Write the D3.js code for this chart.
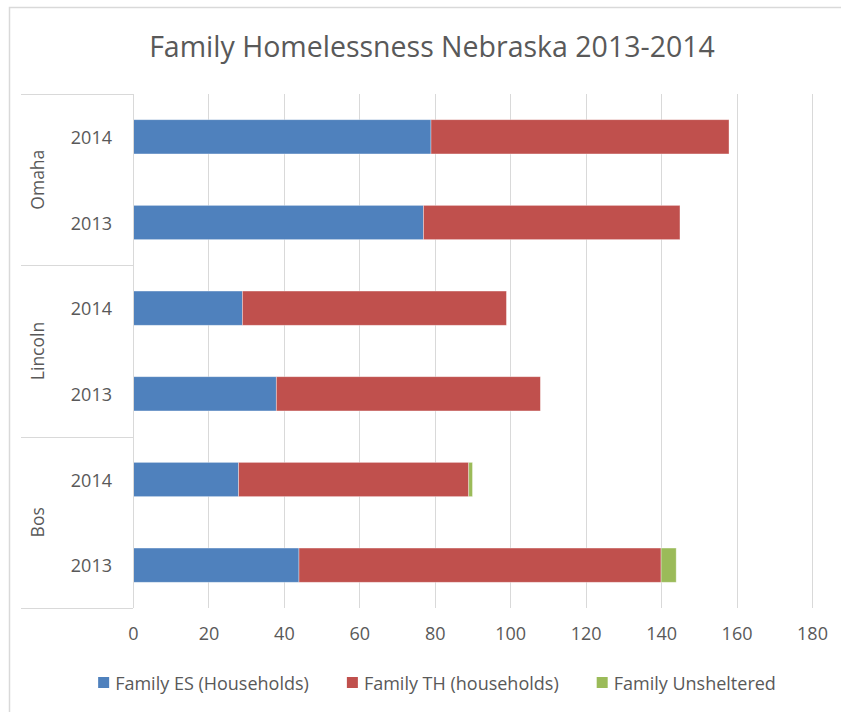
<!DOCTYPE html>
<html>
<head>
<meta charset="utf-8">
<script src="https://cdn.jsdelivr.net/npm/d3@7"></script>
<style>
  html, body { margin: 0; padding: 0; background: #fff; }
  svg { display: block; }
  text { font-family: "Open Sans", "Noto Sans", sans-serif; fill: #595959; }
</style>
</head>
<body>
<div id="chart"></div>
<script>
// ---- data ----
const groups = ["Omaha", "Lincoln", "Bos"];
const years = ["2014", "2013"];
const seriesNames = ["Family ES (Households)", "Family TH (households)", "Family Unsheltered"];
const seriesColors = ["#4F81BD", "#C0504D", "#9BBB59"];
// rows in display order (top to bottom): Omaha 2014, Omaha 2013, Lincoln 2014, Lincoln 2013, Bos 2014, Bos 2013
const esValues = [79, 77, 29, 38, 28, 44];
const thValues = [79, 68, 70, 70, 61, 96];
const unshelteredValues = [0, 0, 0, 0, 1, 4];
const xTicks = [0, 20, 40, 60, 80, 100, 120, 140, 160, 180];
const titleText = "Family Homelessness Nebraska 2013-2014";

// ---- build rows ----
const rows = [];
groups.forEach((g, gi) => years.forEach((y, yi) => {
  const i = gi * years.length + yi;
  rows.push({ key: g + "-" + y, group: g, year: y,
    "Family ES (Households)": esValues[i],
    "Family TH (households)": thValues[i],
    "Family Unsheltered": unshelteredValues[i] });
}));

const W = 841, H = 712;
const svg = d3.select("#chart").append("svg").attr("width", W).attr("height", H);

// outer chart border
svg.append("rect").attr("x", 9.5).attr("y", 7.5).attr("width", 900).attr("height", 800)
  .attr("fill", "none").attr("stroke", "#d9d9d9").attr("stroke-width", 1.5);

const plot = { left: 133, right: 812, top: 94, bottom: 608 };

const x = d3.scaleLinear().domain([0, 180]).range([plot.left, plot.right]);
const y = d3.scaleBand().domain(rows.map(d => d.key)).range([plot.top, plot.bottom])
  .paddingInner(0.6).paddingOuter(0.3);

// gridlines
svg.append("g").selectAll("line").data(xTicks).join("line")
  .attr("x1", d => Math.round(x(d)) + 0.5).attr("x2", d => Math.round(x(d)) + 0.5)
  .attr("y1", plot.top).attr("y2", plot.bottom)
  .attr("stroke", "#d9d9d9").attr("stroke-width", 1);

// x tick labels via axis
const xAxis = svg.append("g").attr("transform", `translate(0,${plot.bottom})`)
  .call(d3.axisBottom(x).tickValues(xTicks).tickSize(0).tickPadding(19));
xAxis.select(".domain").remove();
xAxis.selectAll("text").style("font-size", "18px").attr("fill", "#595959");

// stacked bars
const stack = d3.stack().keys(seriesNames);
const stacked = stack(rows);
svg.append("g").selectAll("g").data(stacked).join("g")
  .attr("fill", (d, i) => seriesColors[i])
  .selectAll("rect").data(d => d.filter(v => v[1] - v[0] > 0)).join("rect")
  .attr("x", d => x(d[0])).attr("width", d => x(d[1]) - x(d[0]))
  .attr("y", d => y(d.data.key)).attr("height", y.bandwidth())
  .attr("stroke", "#ffffff").attr("stroke-opacity", 0.45).attr("stroke-width", 0.8);

// category axis: vertical line + group separators
const sepYs = [plot.top, y(rows[2].key) - (y.step() * y.paddingInner()) / 2, y(rows[4].key) - (y.step() * y.paddingInner()) / 2, plot.bottom];
svg.append("line").attr("x1", plot.left + 0.5).attr("x2", plot.left + 0.5)
  .attr("y1", plot.top).attr("y2", plot.bottom).attr("stroke", "#d9d9d9");
svg.append("g").selectAll("line").data(sepYs).join("line")
  .attr("x1", 21).attr("x2", plot.left)
  .attr("y1", d => Math.round(d) + 0.5).attr("y2", d => Math.round(d) + 0.5)
  .attr("stroke", "#d9d9d9");

// year labels
svg.append("g").selectAll("text").data(rows).join("text")
  .attr("x", 112).attr("y", d => y(d.key) + y.bandwidth() / 2)
  .attr("text-anchor", "end").attr("dominant-baseline", "central")
  .style("font-size", "18px").text(d => d.year);

// group labels (rotated)
svg.append("g").selectAll("text").data(groups).join("text")
  .attr("transform", (g, i) => {
    const cy = (sepYs[i] + sepYs[i + 1]) / 2;
    return `translate(37,${cy}) rotate(-90)`;
  })
  .attr("text-anchor", "middle").attr("dominant-baseline", "central")
  .style("font-size", "17.5px").text(g => g);

// title
svg.append("text").attr("x", 432).attr("y", 46)
  .attr("text-anchor", "middle").attr("dominant-baseline", "central")
  .style("font-size", "28.5px").text(titleText);

// legend
const legend = svg.append("g");
const items = legend.selectAll("g").data(seriesNames).join("g");
items.append("rect").attr("width", 11).attr("height", 11).attr("y", -6)
  .attr("fill", (d, i) => seriesColors[i]);
items.append("text").attr("x", 17).attr("dominant-baseline", "central")
  .style("font-size", "18px").text(d => d);
let cursor = 0;
const offs = [];
items.each(function () {
  offs.push(cursor);
  cursor += 17 + this.querySelector("text").getComputedTextLength() + 38;
});
const totalW = cursor - 38;
const startX = 437 - totalW / 2;
items.attr("transform", (d, i) => `translate(${startX + offs[i]},683)`);
</script>
</body>
</html>
